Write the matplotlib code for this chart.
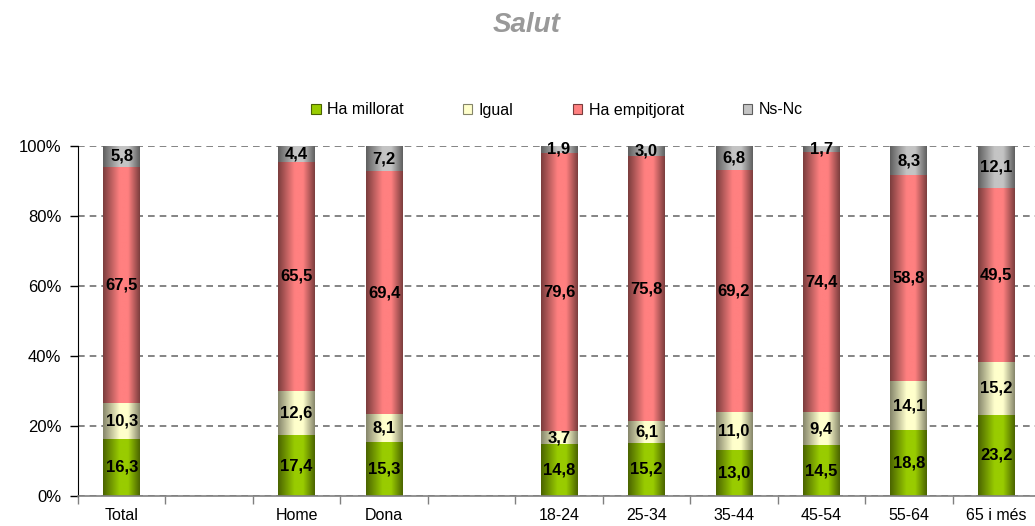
import numpy as np
import matplotlib
matplotlib.use('Agg')
import matplotlib.pyplot as plt
from matplotlib.colors import LinearSegmentedColormap
from matplotlib.patches import Patch

plt.rcParams['font.family'] = ['Liberation Sans', 'DejaVu Sans']

categories = ['Total', '', 'Home', 'Dona', '', '18-24', '25-34', '35-44', '45-54', '55-64', '65 i més']
series_names = ['Ha millorat', 'Igual', 'Ha empitjorat', 'Ns-Nc']
millorat = [16.3, None, 17.4, 15.3, None, 14.8, 15.2, 13.0, 14.5, 18.8, 23.2]
igual = [10.3, None, 12.6, 8.1, None, 3.7, 6.1, 11.0, 9.4, 14.1, 15.2]
empitjorat = [67.5, None, 65.5, 69.4, None, 79.6, 75.8, 69.2, 74.4, 58.8, 49.5]
nsnc = [5.8, None, 4.4, 7.2, None, 1.9, 3.0, 6.8, 1.7, 8.3, 12.1]
yticks = [0, 20, 40, 60, 80, 100]

# (mid colour, edge colour) for the cylinder look
shades = [('#99CC00', '#4A6300'),
          ('#FFFFCC', '#85856A'),
          ('#FF8080', '#7A3D3D'),
          ('#C4C4C4', '#5E5E5E')]

fig = plt.figure(figsize=(10.35, 5.26), dpi=100)
ax = fig.add_axes([78 / 1035, 30 / 526, (1040 - 78) / 1035, 350 / 526])

x = np.arange(len(categories))
width = 0.42
bottoms = np.zeros(len(categories))
gradient = np.linspace(0, 1, 256).reshape(1, -1)

for vals, (mid, edge) in zip([millorat, igual, empitjorat, nsnc], shades):
    cmap = LinearSegmentedColormap.from_list(
        'cyl', [(0.0, edge), (0.45, mid), (0.68, mid), (1.0, edge)])
    v = np.array([np.nan if a is None else a for a in vals])
    h = np.nan_to_num(v)
    bars = ax.bar(x, h, width, bottom=bottoms, color='none', linewidth=0)
    for bar, val in zip(bars, v):
        if np.isnan(val):
            continue
        x0, y0 = bar.get_x(), bar.get_y()
        ax.imshow(gradient, cmap=cmap, aspect='auto', interpolation='bilinear',
                  extent=(x0, x0 + bar.get_width(), y0, y0 + bar.get_height()), zorder=2)
        ax.text(x0 + bar.get_width() / 2, y0 + bar.get_height() / 2,
                f'{val:.1f}'.replace('.', ','), ha='center', va='center',
                fontsize=12, fontweight='bold', color='black', zorder=4)
    bottoms += h

ax.set_xlim(-0.5, len(categories) - 0.5)
ax.set_ylim(0, 100)

ax.set_yticks(yticks)
ax.set_yticklabels([f'{t}%' for t in yticks], fontsize=12)
ax.tick_params(axis='y', direction='out', length=6, width=1, pad=6, color='black')
ax.yaxis.grid(True, linestyle=(0, (4, 3)), color='#707070', linewidth=1.2, zorder=1)
ax.set_axisbelow(True)

ax.set_xticks(x)
ax.set_xticklabels(categories, fontsize=11.5)
ax.set_xticks(np.arange(-0.5, len(categories)), minor=True)
ax.tick_params(axis='x', which='major', length=0, pad=9)
ax.tick_params(axis='x', which='minor', length=6, width=1, color='#808080', direction='out')

for s in ['top', 'right']:
    ax.spines[s].set_visible(False)
ax.spines['left'].set_color('black')
ax.spines['bottom'].set_color('#808080')
ax.spines['bottom'].set_linewidth(1.2)

fig.text(527 / 1035, 1 - 25 / 526, 'Salut', ha='center', va='center',
         fontsize=20, fontweight='bold', fontstyle='italic', color='#999999')

handles = [Patch(facecolor=mid, edgecolor=edge, linewidth=0.8) for mid, edge in shades]
fig.legend(handles, series_names, loc='center', bbox_to_anchor=(557 / 1035, 1 - 110 / 526),
           ncol=4, frameon=False, fontsize=11.5, handlelength=0.6, handleheight=0.6,
           handletextpad=0.4, columnspacing=3.7)

plt.savefig('out.png', dpi=100)
